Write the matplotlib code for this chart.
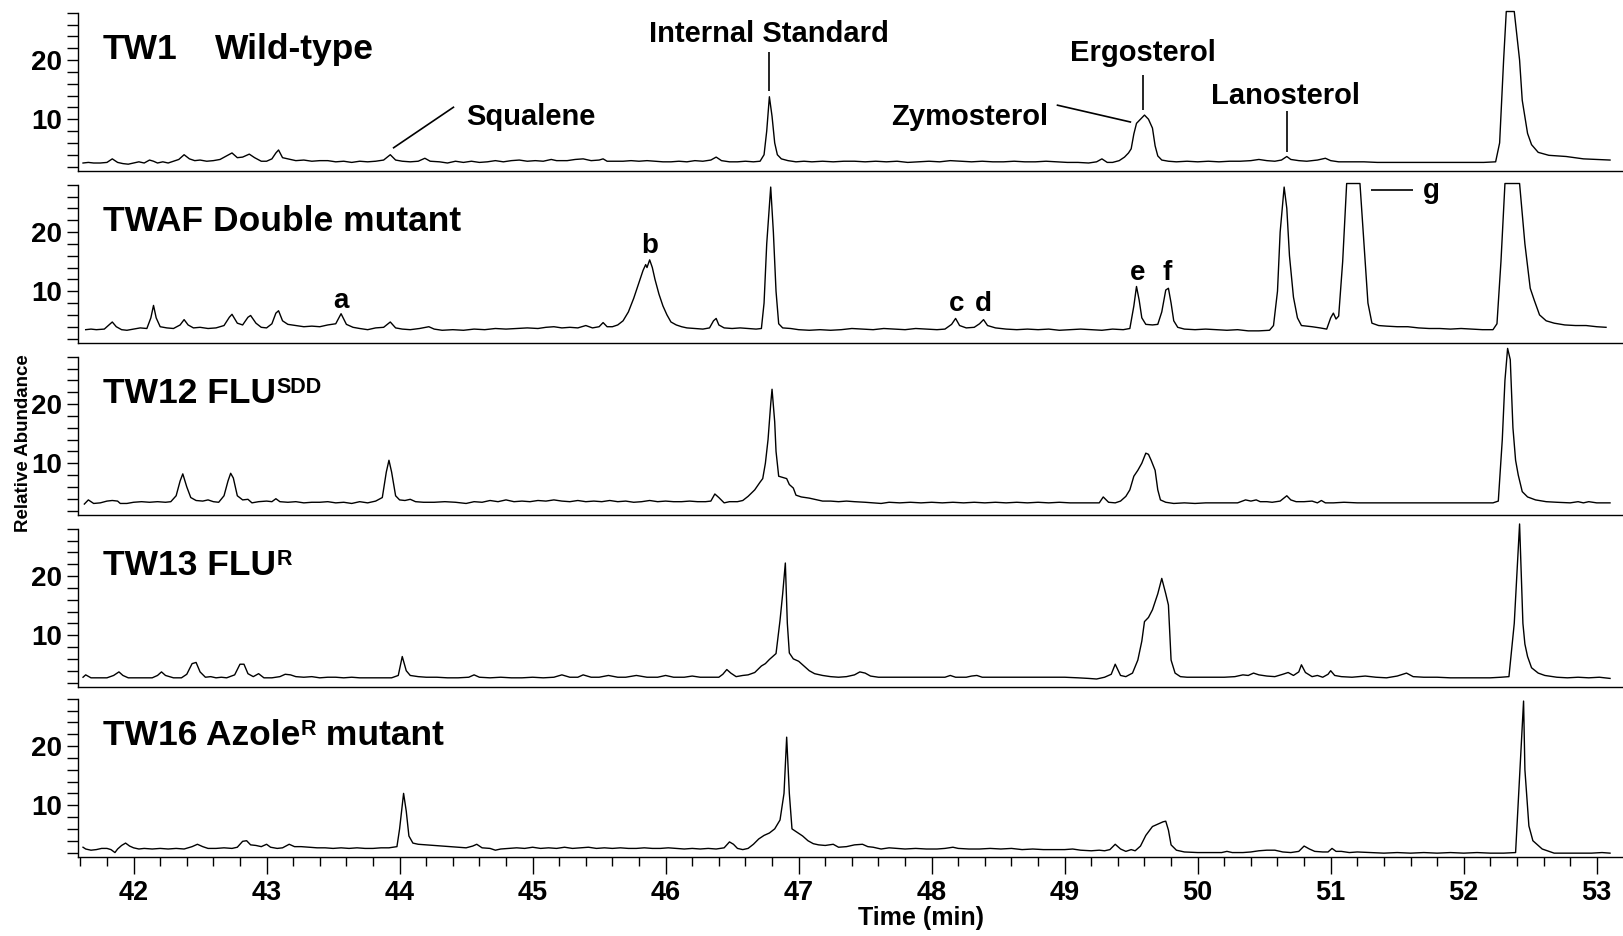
import numpy as np
import matplotlib
matplotlib.use("Agg")
import matplotlib.pyplot as plt
from matplotlib.ticker import MultipleLocator
from matplotlib import font_manager as fm

# ---------------- data (time [min], relative abundance) ----------------
tw1_trace = [(41.62,2.6),(41.66,2.7),(41.70,2.6),(41.75,2.6),(41.80,2.7),(41.84,3.3),(41.88,2.7),(41.92,2.5),(41.96,2.4),(42.00,2.6),(42.04,2.8),(42.08,2.6),(42.12,3.1),(42.15,2.9),(42.18,2.6),(42.22,2.8),(42.26,2.6),(42.30,2.9),(42.34,3.2),(42.38,4.0),(42.42,3.3),(42.46,3.0),(42.50,3.1),(42.55,2.9),(42.60,3.0),(42.65,3.2),(42.70,3.8),(42.74,4.3),(42.78,3.5),(42.82,3.6),(42.87,4.1),(42.91,3.5),(42.96,2.9),(43.00,2.9),(43.04,3.3),(43.07,4.3),(43.09,4.8),(43.12,3.5),(43.16,3.3),(43.22,3.0),(43.28,3.1),(43.34,2.9),(43.40,3.0),(43.46,3.0),(43.52,2.8),(43.58,2.9),(43.64,2.7),(43.70,2.9),(43.76,2.8),(43.82,2.9),(43.88,3.1),(43.93,4.0),(43.97,3.1),(44.02,2.9),(44.08,2.8),(44.14,2.9),(44.19,3.4),(44.23,2.9),(44.30,2.8),(44.36,2.6),(44.42,2.9),(44.48,2.7),(44.54,2.9),(44.60,2.7),(44.66,2.8),(44.72,3.0),(44.78,2.8),(44.84,3.0),(44.90,3.1),(44.96,2.9),(45.02,3.0),(45.08,2.9),(45.14,3.2),(45.18,3.0),(45.26,3.0),(45.32,3.2),(45.38,3.3),(45.44,3.0),(45.50,3.1),(45.53,3.3),(45.56,2.9),(45.62,2.9),(45.68,2.9),(45.74,3.0),(45.80,2.9),(45.86,3.0),(45.92,2.9),(45.98,2.8),(46.04,2.8),(46.10,2.9),(46.16,2.8),(46.22,3.0),(46.28,2.9),(46.34,3.1),(46.38,3.6),(46.42,3.0),(46.48,2.8),(46.54,2.8),(46.60,2.9),(46.66,2.8),(46.71,2.9),(46.74,4.0),(46.76,8.0),(46.78,13.8),(46.80,10.5),(46.82,6.0),(46.84,4.0),(46.87,3.3),(46.92,3.0),(46.98,2.8),(47.04,2.9),(47.10,2.8),(47.18,2.9),(47.26,2.8),(47.34,2.9),(47.42,2.9),(47.50,2.8),(47.58,2.9),(47.66,2.8),(47.74,2.9),(47.82,2.7),(47.90,2.8),(47.98,2.9),(48.06,2.8),(48.14,3.0),(48.22,2.9),(48.30,2.8),(48.38,2.9),(48.46,2.8),(48.54,2.8),(48.62,2.9),(48.70,2.8),(48.78,2.8),(48.86,2.9),(48.94,2.8),(49.02,2.7),(49.10,2.7),(49.18,2.6),(49.24,2.8),(49.28,3.3),(49.32,2.7),(49.36,2.7),(49.41,3.0),(49.45,3.6),(49.48,4.3),(49.50,5.0),(49.52,7.5),(49.54,9.3),(49.57,10.0),(49.60,10.7),(49.63,10.0),(49.66,8.5),(49.68,5.5),(49.70,3.8),(49.73,3.1),(49.78,2.9),(49.84,2.8),(49.92,2.9),(50.00,2.8),(50.08,2.9),(50.16,2.8),(50.24,2.9),(50.32,2.9),(50.40,3.0),(50.46,3.2),(50.52,3.0),(50.58,2.9),(50.63,3.1),(50.67,3.7),(50.70,3.2),(50.76,3.0),(50.82,2.9),(50.90,3.1),(50.96,3.4),(51.00,3.0),(51.06,2.8),(51.15,2.8),(51.25,2.8),(51.35,2.7),(51.45,2.7),(51.55,2.7),(51.65,2.7),(51.75,2.7),(51.85,2.7),(51.95,2.7),(52.05,2.7),(52.15,2.7),(52.24,2.8),(52.27,6.0),(52.30,20.0),(52.32,28.2),(52.38,28.2),(52.42,20.0),(52.44,13.2),(52.48,7.6),(52.51,5.7),(52.56,4.4),(52.64,3.9),(52.77,3.7),(52.90,3.3),(53.00,3.2),(53.10,3.1)]

twaf_trace = [(41.64,3.5),(41.68,3.6),(41.72,3.5),(41.78,3.6),(41.82,4.4),(41.84,4.8),(41.87,4.0),(41.91,3.5),(41.95,3.4),(42.00,3.6),(42.05,3.8),(42.10,3.7),(42.13,5.5),(42.15,7.6),(42.17,5.5),(42.20,4.0),(42.25,3.8),(42.30,3.7),(42.35,4.3),(42.38,5.2),(42.41,4.3),(42.45,3.8),(42.50,3.9),(42.56,3.7),(42.62,3.8),(42.68,4.2),(42.72,5.6),(42.74,6.1),(42.78,4.6),(42.82,4.3),(42.86,5.6),(42.88,5.9),(42.92,4.6),(42.96,3.9),(43.00,3.8),(43.04,4.5),(43.07,6.3),(43.09,6.7),(43.12,5.0),(43.16,4.4),(43.22,4.2),(43.28,4.0),(43.34,4.1),(43.40,4.0),(43.46,4.3),(43.52,4.5),(43.56,6.2),(43.60,4.4),(43.65,3.9),(43.70,3.7),(43.76,3.5),(43.82,3.8),(43.88,3.9),(43.93,4.8),(43.97,3.8),(44.02,3.6),(44.08,3.5),(44.15,3.7),(44.22,4.0),(44.26,3.6),(44.32,3.4),(44.40,3.5),(44.48,3.4),(44.56,3.6),(44.64,3.5),(44.72,3.7),(44.80,3.6),(44.88,3.7),(44.96,3.8),(45.04,3.7),(45.10,3.9),(45.16,4.0),(45.22,3.8),(45.28,3.9),(45.34,3.8),(45.40,4.2),(45.45,3.8),(45.50,4.0),(45.53,4.7),(45.56,4.0),(45.60,4.0),(45.64,4.3),(45.68,5.0),(45.72,6.5),(45.76,8.8),(45.80,11.5),(45.83,13.5),(45.85,14.5),(45.86,14.0),(45.88,15.3),(45.90,14.0),(45.92,12.0),(45.95,9.5),(45.98,7.5),(46.01,6.0),(46.04,4.8),(46.08,4.3),(46.12,4.0),(46.16,3.8),(46.22,3.7),(46.28,3.6),(46.33,3.8),(46.36,5.0),(46.38,5.4),(46.40,4.3),(46.44,3.8),(46.50,3.7),(46.56,3.8),(46.62,3.7),(46.68,3.6),(46.72,3.7),(46.74,8.0),(46.76,18.0),(46.79,27.6),(46.81,20.0),(46.83,10.0),(46.85,4.5),(46.88,3.8),(46.94,3.7),(47.00,3.5),(47.08,3.4),(47.16,3.5),(47.24,3.4),(47.32,3.5),(47.40,3.7),(47.48,3.6),(47.56,3.5),(47.64,3.7),(47.72,3.6),(47.80,3.5),(47.88,3.7),(47.96,3.6),(48.04,3.5),(48.10,3.6),(48.15,4.4),(48.18,5.4),(48.21,4.2),(48.26,3.8),(48.32,3.9),(48.36,4.5),(48.39,5.2),(48.42,4.2),(48.48,3.8),(48.56,3.6),(48.64,3.5),(48.72,3.6),(48.80,3.5),(48.88,3.6),(48.96,3.4),(49.04,3.5),(49.12,3.6),(49.20,3.5),(49.28,3.4),(49.36,3.6),(49.44,3.5),(49.49,3.7),(49.52,7.5),(49.54,10.8),(49.56,8.5),(49.58,5.5),(49.61,4.4),(49.66,4.3),(49.70,4.4),(49.73,6.5),(49.76,10.2),(49.78,10.5),(49.80,8.0),(49.82,5.0),(49.85,3.9),(49.90,3.6),(49.98,3.5),(50.06,3.6),(50.14,3.5),(50.22,3.4),(50.30,3.5),(50.38,3.3),(50.46,3.3),(50.54,3.4),(50.57,4.2),(50.60,10.0),(50.62,20.0),(50.65,27.6),(50.67,24.0),(50.69,16.0),(50.72,9.0),(50.75,5.5),(50.78,4.2),(50.82,4.1),(50.86,4.0),(50.92,3.8),(50.97,3.6),(51.00,5.5),(51.02,6.3),(51.04,5.3),(51.06,5.8),(51.09,15.0),(51.12,28.2),(51.22,28.2),(51.25,18.0),(51.28,8.0),(51.31,4.6),(51.36,4.2),(51.42,4.1),(51.50,4.0),(51.58,4.0),(51.66,3.8),(51.74,3.7),(51.82,3.7),(51.90,3.6),(51.98,3.7),(52.06,3.6),(52.14,3.5),(52.22,3.5),(52.25,4.5),(52.28,15.0),(52.31,28.2),(52.42,28.2),(52.46,18.0),(52.50,10.5),(52.53,8.5),(52.57,6.0),(52.62,5.0),(52.68,4.6),(52.76,4.3),(52.84,4.2),(52.92,4.2),(53.00,4.0),(53.07,3.9)]

tw12_trace = [(41.63,3.1),(41.66,3.8),(41.70,3.2),(41.75,3.3),(41.80,3.6),(41.84,3.7),(41.88,3.6),(41.90,3.2),(41.95,3.2),(42.00,3.4),(42.06,3.5),(42.12,3.4),(42.18,3.5),(42.24,3.4),(42.28,3.5),(42.32,4.5),(42.35,7.0),(42.37,8.2),(42.40,6.0),(42.43,4.2),(42.47,3.7),(42.52,3.6),(42.56,3.8),(42.60,3.5),(42.64,3.4),(42.68,4.5),(42.71,7.0),(42.73,8.3),(42.75,7.5),(42.78,4.5),(42.82,3.8),(42.86,3.9),(42.89,3.3),(42.94,3.5),(43.00,3.6),(43.04,3.5),(43.07,4.0),(43.10,3.5),(43.16,3.4),(43.22,3.5),(43.28,3.3),(43.34,3.4),(43.40,3.4),(43.46,3.5),(43.52,3.3),(43.58,3.4),(43.64,3.2),(43.70,3.5),(43.76,3.3),(43.82,3.6),(43.87,4.2),(43.90,8.5),(43.92,10.5),(43.94,8.5),(43.97,4.5),(44.00,3.8),(44.04,3.7),(44.08,3.9),(44.12,3.5),(44.18,3.4),(44.26,3.4),(44.34,3.5),(44.42,3.4),(44.50,3.2),(44.56,3.5),(44.62,3.4),(44.68,3.7),(44.74,3.5),(44.80,3.8),(44.86,3.5),(44.92,3.6),(44.98,3.5),(45.04,3.7),(45.10,3.6),(45.16,3.8),(45.22,3.6),(45.28,3.5),(45.34,3.7),(45.40,3.5),(45.46,3.6),(45.52,3.5),(45.58,3.7),(45.64,3.5),(45.70,3.6),(45.76,3.4),(45.82,3.5),(45.88,3.7),(45.94,3.5),(46.00,3.6),(46.06,3.5),(46.12,3.5),(46.18,3.6),(46.24,3.5),(46.30,3.5),(46.34,3.6),(46.37,4.8),(46.40,4.2),(46.44,3.3),(46.48,3.5),(46.54,3.5),(46.58,3.7),(46.62,4.4),(46.67,5.5),(46.71,6.8),(46.73,7.4),(46.75,10.0),(46.77,14.0),(46.79,20.0),(46.80,22.5),(46.82,17.0),(46.83,12.0),(46.85,7.8),(46.88,7.6),(46.91,7.4),(46.93,6.4),(46.96,5.8),(46.98,4.6),(47.02,4.3),(47.08,4.1),(47.14,3.8),(47.18,3.6),(47.24,3.6),(47.30,3.5),(47.36,3.6),(47.42,3.5),(47.50,3.4),(47.56,3.3),(47.62,3.2),(47.68,3.4),(47.76,3.3),(47.84,3.4),(47.92,3.3),(48.00,3.4),(48.08,3.3),(48.16,3.4),(48.24,3.3),(48.32,3.4),(48.40,3.3),(48.48,3.4),(48.56,3.3),(48.64,3.4),(48.72,3.3),(48.80,3.4),(48.88,3.3),(48.96,3.4),(49.04,3.3),(49.12,3.3),(49.20,3.3),(49.26,3.3),(49.29,4.3),(49.33,3.4),(49.38,3.3),(49.42,3.6),(49.46,4.4),(49.49,5.5),(49.52,7.8),(49.55,8.8),(49.58,10.0),(49.61,11.7),(49.63,11.5),(49.65,10.5),(49.68,8.8),(49.70,5.5),(49.72,3.8),(49.76,3.4),(49.82,3.2),(49.90,3.3),(49.98,3.2),(50.06,3.3),(50.14,3.3),(50.22,3.3),(50.30,3.3),(50.36,3.8),(50.40,3.6),(50.44,3.8),(50.47,3.5),(50.52,3.5),(50.56,3.4),(50.62,3.6),(50.67,4.5),(50.70,3.8),(50.74,3.5),(50.80,3.5),(50.86,3.6),(50.90,3.3),(50.93,3.7),(50.96,3.3),(51.02,3.3),(51.10,3.4),(51.20,3.3),(51.30,3.3),(51.40,3.3),(51.50,3.3),(51.60,3.3),(51.70,3.3),(51.80,3.3),(51.90,3.3),(52.00,3.3),(52.10,3.3),(52.22,3.3),(52.26,3.6),(52.29,14.0),(52.31,24.0),(52.33,29.4),(52.35,27.5),(52.37,16.0),(52.39,10.5),(52.41,8.0),(52.44,5.2),(52.48,4.3),(52.54,3.8),(52.62,3.5),(52.70,3.4),(52.80,3.3),(52.86,3.5),(52.90,3.3),(52.94,3.5),(53.00,3.3),(53.10,3.3)]

tw13_trace = [(41.62,2.9),(41.64,3.3),(41.68,2.8),(41.74,2.8),(41.80,2.8),(41.85,3.2),(41.89,3.8),(41.92,3.2),(41.96,2.8),(42.02,2.8),(42.08,2.8),(42.14,2.8),(42.18,3.2),(42.21,3.8),(42.24,3.2),(42.27,3.0),(42.30,2.8),(42.36,2.8),(42.40,3.4),(42.44,5.2),(42.47,5.4),(42.50,3.8),(42.54,2.9),(42.58,3.0),(42.62,2.8),(42.66,2.9),(42.70,2.8),(42.76,3.3),(42.80,5.1),(42.83,5.1),(42.86,3.5),(42.90,3.0),(42.94,3.5),(42.98,2.8),(43.04,2.8),(43.10,3.0),(43.14,3.4),(43.18,3.3),(43.22,3.0),(43.28,2.9),(43.34,3.0),(43.40,2.8),(43.46,2.9),(43.52,2.9),(43.58,2.8),(43.64,2.9),(43.70,2.8),(43.76,2.8),(43.82,2.8),(43.88,2.8),(43.94,2.8),(43.99,3.2),(44.02,6.4),(44.05,4.0),(44.08,3.2),(44.14,3.0),(44.20,2.9),(44.28,2.9),(44.36,2.8),(44.44,2.8),(44.52,2.9),(44.56,3.3),(44.60,2.9),(44.68,2.8),(44.76,2.9),(44.84,2.8),(44.92,2.8),(45.00,2.9),(45.08,2.8),(45.16,2.9),(45.22,3.3),(45.28,2.9),(45.34,2.9),(45.38,3.3),(45.44,2.9),(45.50,2.9),(45.57,3.2),(45.64,2.9),(45.70,2.9),(45.78,3.2),(45.86,2.9),(45.94,2.9),(46.00,3.2),(46.06,2.9),(46.14,2.9),(46.20,3.1),(46.26,2.9),(46.34,2.9),(46.40,2.9),(46.43,3.4),(46.46,4.2),(46.49,3.6),(46.53,3.0),(46.58,3.2),(46.62,3.3),(46.67,3.7),(46.72,4.8),(46.75,5.2),(46.78,5.9),(46.83,6.9),(46.86,12.5),(46.88,17.0),(46.90,22.2),(46.915,12.0),(46.93,7.0),(46.96,6.0),(47.00,5.6),(47.04,4.8),(47.08,4.0),(47.12,3.5),(47.18,3.2),(47.24,3.0),(47.30,2.9),(47.36,3.0),(47.42,3.3),(47.46,3.8),(47.50,3.6),(47.54,3.1),(47.60,2.9),(47.70,2.9),(47.80,2.9),(47.90,2.9),(48.00,2.9),(48.10,2.9),(48.14,3.2),(48.18,2.9),(48.26,2.9),(48.30,3.1),(48.34,3.2),(48.38,2.9),(48.50,2.9),(48.60,2.9),(48.70,2.9),(48.80,2.9),(48.90,2.9),(49.00,2.9),(49.10,2.8),(49.18,2.7),(49.24,2.6),(49.30,2.9),(49.35,3.4),(49.38,5.1),(49.42,3.2),(49.46,3.0),(49.51,3.6),(49.55,5.8),(49.58,9.0),(49.60,12.3),(49.63,13.0),(49.66,14.3),(49.70,17.0),(49.73,19.6),(49.76,17.0),(49.78,15.1),(49.80,5.8),(49.83,3.6),(49.87,3.0),(49.92,2.9),(50.00,2.9),(50.10,2.9),(50.20,2.9),(50.28,3.0),(50.34,3.3),(50.38,3.2),(50.42,3.6),(50.46,3.3),(50.52,3.1),(50.58,3.0),(50.64,3.4),(50.68,3.7),(50.72,3.2),(50.76,3.8),(50.78,5.0),(50.81,3.7),(50.86,3.0),(50.90,3.2),(50.94,2.9),(50.98,3.4),(51.00,4.0),(51.03,3.2),(51.08,3.0),(51.16,2.9),(51.26,3.1),(51.34,2.9),(51.42,2.8),(51.50,3.1),(51.57,3.6),(51.62,3.0),(51.70,2.9),(51.80,2.9),(51.90,2.8),(52.00,2.8),(52.10,2.8),(52.20,2.8),(52.28,2.9),(52.34,3.0),(52.38,12.0),(52.42,28.8),(52.445,12.0),(52.46,8.5),(52.48,6.4),(52.51,4.5),(52.56,3.6),(52.61,3.2),(52.70,2.9),(52.78,2.8),(52.86,2.9),(52.94,2.8),(53.02,2.9),(53.10,2.7)]

tw16_trace = [(41.62,2.9),(41.64,2.6),(41.68,2.4),(41.72,2.5),(41.76,2.7),(41.80,2.7),(41.83,2.5),(41.86,2.0),(41.88,2.6),(41.91,3.2),(41.94,3.6),(41.97,3.1),(42.00,2.8),(42.04,2.6),(42.08,2.7),(42.14,2.6),(42.20,2.7),(42.26,2.6),(42.32,2.7),(42.38,2.6),(42.44,3.0),(42.48,3.4),(42.52,3.0),(42.56,2.7),(42.62,2.7),(42.68,2.8),(42.74,2.7),(42.78,2.9),(42.82,3.9),(42.85,4.0),(42.88,3.3),(42.92,3.2),(42.96,3.0),(43.00,3.4),(43.03,2.9),(43.08,2.7),(43.12,2.8),(43.17,3.4),(43.21,3.0),(43.26,3.0),(43.32,2.9),(43.38,2.8),(43.44,2.8),(43.50,2.7),(43.56,2.8),(43.62,2.7),(43.68,2.8),(43.74,2.7),(43.80,2.7),(43.86,2.8),(43.92,2.8),(43.98,3.0),(44.00,6.0),(44.03,12.0),(44.05,9.0),(44.07,4.8),(44.10,3.6),(44.14,3.4),(44.20,3.3),(44.26,3.2),(44.32,3.1),(44.38,3.0),(44.44,2.9),(44.50,2.8),(44.55,3.1),(44.58,3.4),(44.62,2.8),(44.68,2.7),(44.72,2.4),(44.76,2.6),(44.82,2.7),(44.88,2.8),(44.94,2.7),(45.00,2.9),(45.06,2.7),(45.12,2.8),(45.18,2.7),(45.24,2.9),(45.30,2.7),(45.36,2.8),(45.42,2.9),(45.48,2.7),(45.54,2.8),(45.60,2.7),(45.66,2.8),(45.72,2.7),(45.78,2.7),(45.84,2.8),(45.90,2.7),(45.96,2.7),(46.02,2.8),(46.08,2.7),(46.14,2.6),(46.20,2.7),(46.26,2.6),(46.32,2.7),(46.38,2.6),(46.44,2.8),(46.48,3.8),(46.51,3.4),(46.54,2.7),(46.58,2.5),(46.62,2.7),(46.66,3.4),(46.70,4.3),(46.74,4.9),(46.78,5.3),(46.82,6.0),(46.86,7.5),(46.89,12.0),(46.91,21.5),(46.93,12.0),(46.95,6.0),(46.99,5.4),(47.03,4.8),(47.07,4.0),(47.11,3.5),(47.15,3.3),(47.20,3.2),(47.26,3.4),(47.30,2.9),(47.36,3.0),(47.42,3.3),(47.48,3.4),(47.52,3.0),(47.56,2.9),(47.62,2.6),(47.68,2.8),(47.74,2.7),(47.80,2.6),(47.88,2.7),(47.96,2.6),(48.04,2.6),(48.10,2.7),(48.16,2.9),(48.20,2.7),(48.28,2.6),(48.36,2.6),(48.44,2.7),(48.52,2.6),(48.60,2.7),(48.68,2.5),(48.76,2.6),(48.84,2.5),(48.92,2.5),(49.00,2.5),(49.06,2.6),(49.12,2.4),(49.20,2.3),(49.26,2.4),(49.30,2.3),(49.34,2.5),(49.38,3.4),(49.42,2.6),(49.46,2.2),(49.50,2.5),(49.53,2.3),(49.57,3.1),(49.61,4.9),(49.66,6.4),(49.71,6.9),(49.74,7.2),(49.76,7.3),(49.78,5.8),(49.80,3.3),(49.84,2.4),(49.90,2.1),(50.00,2.0),(50.10,2.0),(50.18,2.0),(50.22,2.2),(50.26,2.0),(50.34,2.0),(50.40,2.1),(50.46,2.3),(50.52,2.4),(50.58,2.4),(50.64,2.1),(50.70,2.0),(50.76,2.2),(50.80,3.1),(50.84,2.6),(50.88,2.2),(50.94,2.1),(50.98,2.1),(51.01,2.7),(51.04,2.2),(51.08,2.2),(51.14,2.0),(51.20,2.1),(51.30,2.0),(51.40,1.9),(51.50,2.0),(51.60,1.9),(51.70,2.0),(51.80,1.9),(51.90,2.0),(52.00,1.9),(52.10,2.0),(52.20,1.9),(52.30,1.9),(52.39,2.0),(52.45,27.6),(52.46,16.0),(52.49,6.5),(52.52,4.0),(52.59,2.6),(52.68,1.9),(52.76,1.9),(52.86,1.9),(52.96,1.9),(53.04,2.0),(53.10,1.9)]

traces = [tw1_trace, twaf_trace, tw12_trace, tw13_trace, tw16_trace]
x_major_ticks = list(range(42, 54))
y_major_ticks = [10, 20]

# ---------------- fonts ----------------
names = {f.name for f in fm.fontManager.ttflist}
NARROW = 'Liberation Sans Narrow' in names
plt.rcParams['font.family'] = ['Liberation Sans', 'DejaVu Sans']
plt.rcParams['font.weight'] = 'bold'
if NARROW:
    ann_font = dict(family=['Liberation Sans Narrow', 'Liberation Sans'], weight='bold', size=25.5)
    let_font = dict(family=['Liberation Sans Narrow', 'Liberation Sans'], weight='bold', size=24)
    ylab_font = dict(family=['Liberation Sans Narrow', 'Liberation Sans'], weight='bold', size=17)
else:
    ann_font = dict(family=['Liberation Sans'], weight='bold', size=21)
    let_font = dict(family=['Liberation Sans'], weight='bold', size=20)
    ylab_font = dict(family=['Liberation Sans'], weight='bold', size=13.5)
title_font = dict(weight='bold', size=25.5)
sup_font = dict(weight='bold', size=15.5)

# ---------------- layout ----------------
W, H = 1624.0, 936.0
fig = plt.figure(figsize=(W / 100, H / 100), dpi=100)
x_left, x_right = 77.7, 1622.0
bottoms = [170.7, 342.7, 514.7, 686.7, 856.7]
panel_h = 158.0
XLIM = (41.58, 53.19)
YLIM = (1.3, 28.0)

axes = []
for i, (b, tr) in enumerate(zip(bottoms, traces)):
    ax = fig.add_axes([x_left / W, 1 - b / H, (x_right - x_left) / W, panel_h / H])
    t = [p[0] for p in tr]
    v = [p[1] for p in tr]
    ax.plot(t, v, color='black', lw=1.0, clip_on=False)
    ax.set_xlim(*XLIM)
    ax.set_ylim(*YLIM)
    for s in ['top', 'right']:
        ax.spines[s].set_visible(False)
    for s in ['left', 'bottom']:
        ax.spines[s].set_linewidth(1.0)
    ax.set_yticks(y_major_ticks)
    ax.yaxis.set_minor_locator(MultipleLocator(2))
    ax.tick_params(axis='y', which='both', direction='out', length=8, width=1.0,
                   labelsize=20, pad=3.5)
    for lab in ax.get_yticklabels():
        lab.set_fontweight('bold')
    if i < 4:
        ax.set_xticks([])
    else:
        ax.set_xticks(x_major_ticks)
        ax.xaxis.set_minor_locator(MultipleLocator(0.2))
        ax.tick_params(axis='x', which='major', direction='out', length=12, width=1.0,
                       labelsize=19.5, pad=5)
        ax.tick_params(axis='x', which='minor', direction='out', length=6.5, width=1.0)
        for lab in ax.get_xticklabels():
            lab.set_fontweight('bold')
    axes.append(ax)

ax1, ax2, ax3, ax4, ax5 = axes

# ---------------- panel titles ----------------
TX, TY = 41.77, 20.1
ax1.text(TX, TY, 'TW1', va='baseline', ha='left', **title_font)
ax1.text(42.61, TY, 'Wild-type', va='baseline', ha='left', **title_font)
ax2.text(TX, TY, 'TWAF Double mutant', va='baseline', ha='left', **title_font)

m3 = ax3.text(TX, TY, 'TW12 FLU', va='baseline', ha='left', **title_font)
ax3.annotate('SDD', xy=(1, 1), xycoords=m3, xytext=(0.5, 0), textcoords='offset points',
             ha='left', va='top', **sup_font)
m4 = ax4.text(TX, TY, 'TW13 FLU', va='baseline', ha='left', **title_font)
ax4.annotate('R', xy=(1, 1), xycoords=m4, xytext=(0.5, 0), textcoords='offset points',
             ha='left', va='top', **sup_font)
m5 = ax5.text(TX, TY, 'TW16 Azole', va='baseline', ha='left', **title_font)
s5 = ax5.annotate('R', xy=(1, 1), xycoords=m5, xytext=(0.5, 0), textcoords='offset points',
                  ha='left', va='top', **sup_font)
ax5.annotate(' mutant', xy=(1, 0), xycoords=(s5, m5), ha='left', va='bottom', **title_font)

# ---------------- annotations (top panel) ----------------
lk = dict(color='black', lw=1.2, clip_on=False, solid_capstyle='butt')
ax1.text(46.78, 23.0, 'Internal Standard', ha='center', va='baseline', **ann_font)
ax1.plot([46.78, 46.78], [21.3, 14.7], **lk)
ax1.text(44.50, 9.0, 'Squalene', ha='left', va='baseline', **ann_font)
ax1.plot([44.41, 43.95], [12.1, 5.1], **lk)
ax1.text(48.88, 9.0, 'Zymosterol', ha='right', va='baseline', **ann_font)
ax1.plot([48.94, 49.50], [12.4, 9.5], **lk)
ax1.text(49.59, 19.8, 'Ergosterol', ha='center', va='baseline', **ann_font)
ax1.plot([49.59, 49.59], [17.5, 11.6], **lk)
ax1.text(50.66, 12.6, 'Lanosterol', ha='center', va='baseline', **ann_font)
ax1.plot([50.67, 50.67], [11.4, 4.5], **lk)

# ---------------- letters (second panel) ----------------
ax2.text(43.56, 7.2, 'a', ha='center', va='baseline', **let_font)
ax2.text(45.88, 16.4, 'b', ha='center', va='baseline', **let_font)
ax2.text(48.19, 6.7, 'c', ha='center', va='baseline', **let_font)
ax2.text(48.39, 6.7, 'd', ha='center', va='baseline', **let_font)
ax2.text(49.55, 11.9, 'e', ha='center', va='baseline', **let_font)
ax2.text(49.77, 11.9, 'f', ha='center', va='baseline', **let_font)
ax2.text(51.76, 25.8, 'g', ha='center', va='baseline', **let_font)
ax2.plot([51.30, 51.62], [27.1, 27.1], **lk)

# ---------------- axis labels ----------------
fig.text(24 / W, 1 - 443 / H, 'Relative Abundance', rotation=90, ha='center', va='center', **ylab_font)
fig.text(921 / W, 1 - 918 / H, 'Time (min)', ha='center', va='center', weight='bold', size=18)

fig.savefig('out.png', dpi=100)
